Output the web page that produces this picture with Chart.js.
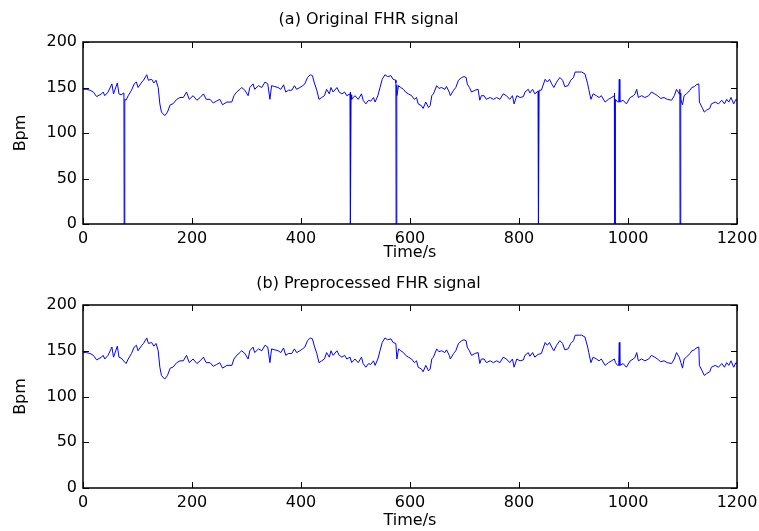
<!DOCTYPE html>
<html lang="en">
<head>
    <meta charset="UTF-8">
    <title>FHR signal</title>
    <style>
        body {
            margin: 0;
            background: #fff;
        }
        .panel {
            position: absolute;
            left: 0;
            width: 759px;
        }
        #top { top: 0; height: 265px; }
        #bottom { top: 265px; height: 266px; }
    </style>
    <script src="https://cdn.jsdelivr.net/npm/chart.js"></script>
</head>
<body>

<div class="panel" id="top"><canvas id="origChart" width="759" height="265"></canvas></div>
<div class="panel" id="bottom"><canvas id="prepChart" width="759" height="266"></canvas></div>

<script>
    // Preprocessed FHR
    const timeSec = [
        0, 6, 13, 19, 25, 34, 37, 40, 46, 53,
        56, 63, 66, 70, 79, 83, 89, 94, 98, 101,
        108, 111, 117, 120, 126, 130, 134, 138, 141, 144,
        150, 155, 160, 165, 172, 178, 184, 190, 195, 202,
        209, 215, 221, 226, 233, 239, 245, 251, 256, 264,
        273, 277, 282, 288, 291, 297, 303, 306, 312, 315,
        322, 328, 334, 339, 343, 346, 352, 358, 363, 368,
        372, 377, 383, 388, 392, 398, 403, 407, 412, 417,
        421, 424, 429, 433, 438, 443, 447, 452, 455, 459,
        466, 470, 475, 480, 484, 490, 493, 499, 505, 511,
        514, 519, 524, 528, 533, 536, 541, 545, 549, 554,
        559, 565, 569, 574, 576, 579, 583, 588, 592, 597,
        603, 608, 612, 615, 621, 624, 629, 634, 637, 640,
        643, 649, 653, 658, 664, 667, 672, 674, 680, 684,
        689, 695, 699, 703, 705, 709, 713, 719, 725, 728,
        731, 736, 740, 747, 753, 759, 765, 771, 777, 783,
        788, 791, 796, 802, 808, 811, 817, 820, 825, 829,
        835, 841, 848, 852, 856, 860, 864, 869, 875, 880,
        884, 890, 895, 900, 903, 911, 915, 921, 926, 928,
        932, 936, 942, 947, 951, 958, 964, 970, 975, 977,
        981, 983, 984, 985, 991, 997, 1004, 1010, 1013, 1016,
        1019, 1025, 1031, 1038, 1043, 1049, 1054, 1060, 1066, 1072,
        1080, 1085, 1089, 1094, 1097, 1100, 1103, 1107, 1114, 1117,
        1122, 1125, 1130, 1131, 1136, 1140, 1144, 1150, 1153, 1160,
        1166, 1172, 1177, 1181, 1185, 1189, 1194, 1198, 1200
    ];
    const fhrBpm = [
        148, 148, 147, 145, 140, 143, 145, 141, 145, 154,
        143, 155, 143, 142, 136, 141, 147, 154, 156, 150,
        156, 158, 164, 158, 159, 155, 158, 150, 132, 123,
        119, 123, 131, 132, 137, 139, 139, 145, 137, 141,
        136, 139, 143, 137, 137, 133, 135, 137, 131, 134,
        134, 141, 145, 148, 150, 147, 141, 150, 154, 148,
        152, 150, 156, 154, 137, 152, 151, 150, 148, 153,
        145, 147, 147, 152, 148, 150, 152, 154, 161, 164,
        163, 156, 147, 137, 139, 141, 148, 143, 150, 145,
        150, 145, 143, 145, 141, 143, 137, 141, 137, 143,
        136, 132, 136, 135, 139, 134, 141, 150, 159, 164,
        162, 163, 159, 158, 141, 152, 150, 148, 145, 143,
        141, 137, 139, 132, 130, 127, 134, 128, 130, 141,
        143, 152, 149, 150, 148, 151, 145, 141, 147, 150,
        158, 161, 162, 161, 154, 150, 145, 147, 148, 136,
        141, 141, 137, 139, 137, 139, 137, 143, 141, 137,
        141, 132, 141, 139, 140, 145, 148, 144, 148, 143,
        146, 147, 159, 156, 159, 154, 150, 156, 161, 158,
        151, 152, 158, 161, 167, 167, 167, 165, 154, 148,
        137, 143, 141, 139, 141, 134, 137, 139, 141, 137,
        134, 134, 159, 134, 136, 132, 139, 141, 143, 148,
        139, 141, 139, 141, 145, 143, 141, 138, 139, 137,
        136, 141, 148, 143, 137, 131, 141, 143, 147, 150,
        151, 153, 154, 134, 128, 123, 125, 127, 132, 134,
        132, 136, 132, 137, 134, 139, 132, 137, 136
    ];

    // Signal-loss segments in the original recording (drop to 0 bpm)
    const dropStart = [75.5, 490.5, 574.5, 835.5, 975.5, 1095.5];
    const dropEnd = [76.5, 491.5, 575.5, 836.5, 976.5, 1096.5];
    const dropBefore = [144, 145, 155, 146, 144, 148];   // bpm just before the loss
    const dropAfter = [137, 142, 153, 147, 137, 144];    // bpm just after it

    const xTicks = [0, 200, 400, 600, 800, 1000, 1200];
    const yTicks = [0, 50, 100, 150, 200];

    Chart.defaults.font.family = "'DejaVu Sans', sans-serif";
    Chart.defaults.font.size = 16;
    Chart.defaults.color = '#000';

    function cleanPoints() {
        return timeSec.map((t, i) => ({ x: t, y: fhrBpm[i] }));
    }

    function originalPoints() {
        const pts = cleanPoints();
        dropStart.forEach((t, i) => {
            pts.push(
                { x: t - 0.4, y: dropBefore[i] },
                { x: t, y: 0 },
                { x: dropEnd[i], y: 0 },
                { x: dropEnd[i] + 0.4, y: dropAfter[i] }
            );
        });
        return pts.sort((a, b) => a.x - b.x);
    }

    // MATLAB style box with inward ticks on all four sides
    const boxPlugin = {
        id: 'box',
        afterDraw(chart) {
            const { ctx, chartArea: a, scales: { x, y } } = chart;
            const len = 6;
            ctx.save();
            ctx.strokeStyle = '#000';
            ctx.lineWidth = 1;
            ctx.beginPath();
            x.ticks.forEach(t => {
                const px = Math.round(x.getPixelForValue(t.value)) + 0.5;
                ctx.moveTo(px, a.bottom);
                ctx.lineTo(px, a.bottom - len);
                ctx.moveTo(px, a.top);
                ctx.lineTo(px, a.top + len);
            });
            y.ticks.forEach(t => {
                const py = Math.round(y.getPixelForValue(t.value)) + 0.5;
                ctx.moveTo(a.left, py);
                ctx.lineTo(a.left + len, py);
                ctx.moveTo(a.right, py);
                ctx.lineTo(a.right - len, py);
            });
            ctx.stroke();
            ctx.lineWidth = 1.5;
            ctx.strokeRect(a.left, a.top, a.right - a.left, a.bottom - a.top);
            ctx.restore();
        }
    };

    function makeChart(id, titleText, points, lay) {
        return new Chart(document.getElementById(id), {
            type: 'line',
            data: {
                datasets: [{
                    data: points,
                    borderColor: '#0000ff',
                    borderWidth: 1,
                    pointRadius: 0,
                    tension: 0,
                    fill: false
                }]
            },
            options: {
                responsive: false,
                animation: false,
                events: [],
                layout: { padding: { left: 0, right: 22, top: 0, bottom: lay.padBottom } },
                plugins: {
                    legend: { display: false },
                    tooltip: { enabled: false },
                    title: {
                        display: true,
                        text: titleText,
                        color: '#000',
                        font: { size: 16, weight: 'normal' },
                        padding: { top: lay.titleTop, bottom: lay.titleBottom }
                    }
                },
                scales: {
                    x: {
                        type: 'linear',
                        min: 0,
                        max: 1200,
                        afterBuildTicks: s => { s.ticks = xTicks.map(v => ({ value: v })); },
                        afterFit: s => {
                            s.height = lay.xHeight;
                            s.paddingLeft = 0;
                            s.paddingRight = 0;
                        },
                        grid: { display: false, drawTicks: false },
                        border: { display: false },
                        ticks: { padding: 5, maxRotation: 0, color: '#000', callback: v => String(v) },
                        title: {
                            display: true,
                            text: 'Time/s',
                            color: '#000',
                            font: { size: 16 },
                            padding: { top: 0, bottom: 0 }
                        }
                    },
                    y: {
                        min: 0,
                        max: 200,
                        afterBuildTicks: s => { s.ticks = yTicks.map(v => ({ value: v })); },
                        afterFit: s => { s.width = 83; },
                        grid: { display: false, drawTicks: false },
                        border: { display: false },
                        ticks: { padding: 6, color: '#000', callback: v => String(v) },
                        title: {
                            display: true,
                            text: 'Bpm',
                            color: '#000',
                            font: { size: 16 },
                            padding: { top: 11, bottom: 0 }
                        }
                    }
                }
            },
            plugins: [boxPlugin]
        });
    }

    makeChart('origChart', '(a) Original FHR signal', originalPoints(),
        { titleTop: 10, titleBottom: 12.8, xHeight: 38, padBottom: 3 });
    makeChart('prepChart', '(b) Preprocessed FHR signal', cleanPoints(),
        { titleTop: 9.4, titleBottom: 11.4, xHeight: 42, padBottom: 1 });
</script>

</body>
</html>
